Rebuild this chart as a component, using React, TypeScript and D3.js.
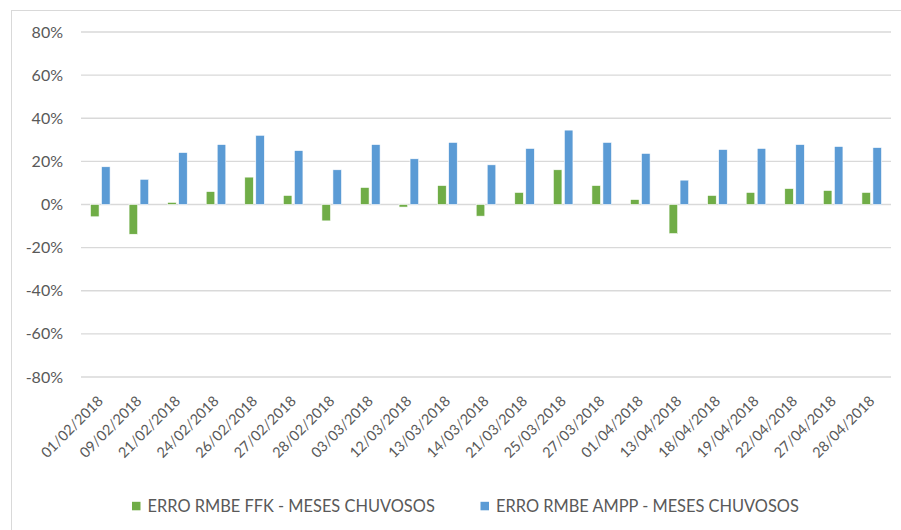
import { useEffect, useRef } from "react"
import * as d3 from "d3"

const dates = [
  "01/02/2018", "09/02/2018", "21/02/2018", "24/02/2018", "26/02/2018", "27/02/2018", "28/02/2018",
  "03/03/2018", "12/03/2018", "13/03/2018", "14/03/2018", "21/03/2018", "25/03/2018", "27/03/2018",
  "01/04/2018", "13/04/2018", "18/04/2018", "19/04/2018", "22/04/2018", "27/04/2018", "28/04/2018",
]

// RMBE error, in %
const ffk = [-5.7, -13.8, 1.0, 6.0, 12.7, 4.2, -7.6, 7.9, -1.2, 8.8, -5.4, 5.6, 16.1, 8.8, 2.3, -13.5, 4.2, 5.6, 7.4, 6.5, 5.6]
const ampp = [17.5, 11.7, 24.1, 27.8, 32.1, 25.0, 16.1, 27.8, 21.2, 28.8, 18.4, 26.0, 34.5, 28.8, 23.7, 11.3, 25.5, 26.0, 27.8, 26.9, 26.4]

const yTicks = [80, 60, 40, 20, 0, -20, -40, -60, -80]

const seriesNames = ["ERRO RMBE FFK - MESES CHUVOSOS", "ERRO RMBE AMPP - MESES CHUVOSOS"]
const seriesColors = ["#70AD47", "#5B9BD5"]

export default function App() {
  const svgRef = useRef<SVGSVGElement>(null)

  useEffect(() => {
    if (!svgRef.current) return
    const width = 901
    const height = 530
    const margin = { top: 32, right: 10, bottom: 153, left: 81 }

    const svg = d3.select(svgRef.current)
    svg.selectAll("*").remove()
    svg.attr("width", width).attr("height", height)

    const font = "Lato, 'Open Sans', sans-serif"

    // chart frame (only top and left edges are in view)
    svg
      .append("rect")
      .attr("x", 11.5)
      .attr("y", 10.5)
      .attr("width", 900)
      .attr("height", 540)
      .attr("fill", "#fff")
      .attr("stroke", "#D9D9D9")
      .attr("stroke-width", 1)

    const x = d3
      .scaleBand()
      .domain(dates)
      .range([margin.left, 891])

    const y = d3
      .scaleLinear()
      .domain([-80, 80])
      .range([height - margin.bottom, margin.top])

    // gridlines
    svg
      .append("g")
      .selectAll("line")
      .data(yTicks)
      .enter()
      .append("line")
      .attr("x1", margin.left)
      .attr("x2", 891)
      .attr("y1", (d) => y(d))
      .attr("y2", (d) => y(d))
      .attr("stroke", "#D9D9D9")
      .attr("stroke-width", 1.3)

    // y labels
    svg
      .append("g")
      .selectAll("text")
      .data(yTicks)
      .enter()
      .append("text")
      .attr("x", 63)
      .attr("y", (d) => y(d))
      .attr("dy", "0.35em")
      .attr("text-anchor", "end")
      .style("font-family", font)
      .style("font-size", "16px")
      .style("fill", "#595959")
      .text((d) => `${d}%`)

    const barW = 8.6
    const offsets = [-5.5, 5.5]
    const series = [ffk, ampp]

    series.forEach((vals, si) => {
      svg
        .append("g")
        .selectAll("rect")
        .data(vals)
        .enter()
        .append("rect")
        .attr("x", (_, i) => (x(dates[i]) || 0) + x.bandwidth() / 2 + offsets[si] - barW / 2)
        .attr("y", (d) => Math.min(y(d), y(0)))
        .attr("width", barW)
        .attr("height", (d) => Math.abs(y(d) - y(0)))
        .attr("fill", seriesColors[si])
        .attr("stroke", "#fff")
        .attr("stroke-width", 0.6)
    })

    // x labels
    svg
      .append("g")
      .selectAll("text")
      .data(dates)
      .enter()
      .append("text")
      .attr("transform", (d) => `translate(${(x(d) || 0) + x.bandwidth() / 2 + 3.7},${y(-80) + 25}) rotate(-45)`)
      .attr("text-anchor", "end")
      .style("font-family", font)
      .style("font-size", "14.5px")
      .style("fill", "#595959")
      .text((d) => d)

    // legend
    const legendX = [132, 480.5]
    const legend = svg
      .append("g")
      .selectAll("g")
      .data(seriesNames)
      .enter()
      .append("g")
      .attr("transform", (_, i) => `translate(${legendX[i]},506)`)

    legend
      .append("rect")
      .attr("x", 0)
      .attr("y", -4.2)
      .attr("width", 8.5)
      .attr("height", 8.5)
      .attr("fill", (_, i) => seriesColors[i])

    legend
      .append("text")
      .attr("x", 15.5)
      .attr("y", 0)
      .attr("dy", "0.35em")
      .style("font-family", font)
      .style("font-size", "16.4px")
      .style("fill", "#595959")
      .text((d) => d)
  }, [])

  return (
    <div style={{ position: "absolute", left: 0, top: 0 }}>
      <svg ref={svgRef}></svg>
    </div>
  )
}
